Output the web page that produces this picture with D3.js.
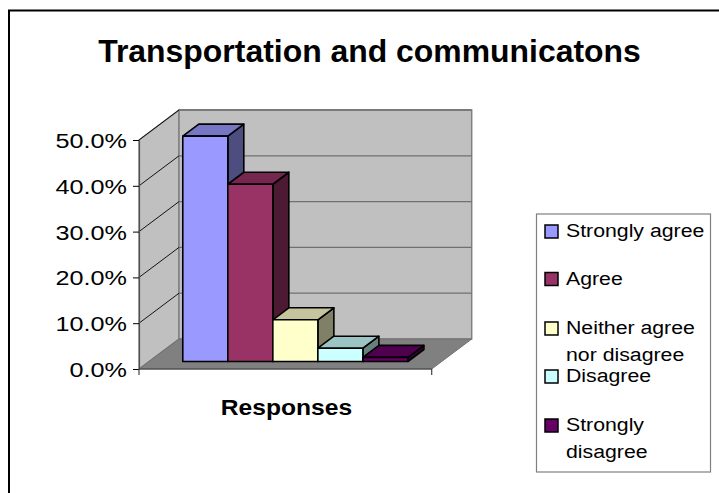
<!DOCTYPE html>
<html><head><meta charset="utf-8">
<script src="https://cdn.jsdelivr.net/npm/d3@7"></script>
<style>
html,body{margin:0;padding:0;background:#fff;}
svg{display:block;}
text{font-family:"Liberation Sans",Arial,sans-serif;fill:#000;}
</style></head>
<body>
<svg id="chart" width="719" height="493"></svg>
<script>
// ---- data ----
const title = "Transportation and communicatons";
const categories = ["Responses"];
const seriesNames = ["Strongly agree","Agree","Neither agree nor disagree","Disagree","Strongly disagree"];
const legendLines = [["Strongly agree"],["Agree"],["Neither agree","nor disagree"],["Disagree"],["Strongly","disagree"]];
const values = [0.492, 0.387, 0.091, 0.029, 0.009];
const seriesColors = ["#9999FF","#993366","#FFFFCC","#CCFFFF","#660066"];
const yTicks = [0,0.1,0.2,0.3,0.4,0.5];

// ---- layout ----
const svg = d3.select("#chart");
const plotLeft = 139, plotRight = 431.7, plotBottom = 369, plotTop = 140;
const depthX = 40, depthY = -30;
const barD0 = 0.25, barD1 = 0.65;

const y = d3.scaleLinear().domain([0,0.5]).range([plotBottom, plotTop]);
const x = d3.scaleBand().domain(seriesNames).range([plotLeft, plotRight]).paddingInner(0).paddingOuter(0.75);
const proj = (px, py, d) => [px + depthX*d, py + depthY*d];
const poly = pts => pts.map(p => p.join(",")).join(" ");

// outer chart frame
svg.append("rect").attr("x",9).attr("y",10.5).attr("width",800).attr("height",600)
  .attr("fill","none").attr("stroke","#000").attr("stroke-width",2);

// title
svg.append("text").attr("transform","translate(369.5,61.7) scale(1.03,1)")
  .attr("text-anchor","middle").attr("font-size",31).attr("font-weight","bold").text(title);

// walls
const y0 = y(0), yMax = y(0.5);
svg.append("polygon").attr("points", poly([proj(plotLeft,y0,0),proj(plotLeft,yMax,0),proj(plotLeft,yMax,1),proj(plotLeft,y0,1)]))
  .attr("fill","#C0C0C0").attr("stroke","#808080").attr("stroke-width",1.5);
svg.append("polygon").attr("points", poly([proj(plotLeft,y0,1),proj(plotLeft,yMax,1),proj(plotRight,yMax,1),proj(plotRight,y0,1)]))
  .attr("fill","#C0C0C0").attr("stroke","#808080").attr("stroke-width",1.5);
svg.append("polygon").attr("points", poly([proj(plotLeft,y0,0),proj(plotRight,y0,0),proj(plotRight,y0,1),proj(plotLeft,y0,1)]))
  .attr("fill","#808080").attr("stroke","#707070").attr("stroke-width",1);

// gridlines
const grid = svg.append("g");
yTicks.filter(t => t>0).forEach(t => {
  const a = proj(plotLeft, y(t), 1), b = proj(plotRight, y(t), 1);
  grid.append("line").attr("x1",a[0]).attr("y1",a[1]).attr("x2",b[0]).attr("y2",b[1])
    .attr("stroke","#707070").attr("stroke-width",1.3);
  const c = proj(plotLeft, y(t), 0);
  grid.append("line").attr("x1",c[0]).attr("y1",c[1]).attr("x2",a[0]).attr("y2",a[1])
    .attr("stroke","#000").attr("stroke-width",0.9);
});

// y axis
const sxY = 1.2;
const yAxis = svg.append("g").attr("transform",`translate(${plotLeft},0)`)
  .call(d3.axisLeft(y).tickValues(yTicks).tickFormat(d3.format(".1%")).tickSize(6).tickSizeOuter(0));
yAxis.select(".domain").attr("stroke","#505050").attr("stroke-width",1.2);
yAxis.selectAll(".tick line").attr("stroke","#000");
yAxis.selectAll(".tick text").attr("font-size",21).attr("font-family",'"Liberation Sans",Arial,sans-serif')
  .attr("fill","#000").attr("dy",null).attr("y",7.5).attr("x",-12/sxY).attr("transform",`scale(${sxY},1)`);

// x axis front edge and ticks
[plotLeft, plotRight].forEach(px => {
  svg.append("line").attr("x1",px).attr("x2",px).attr("y1",y0).attr("y2",y0+6).attr("stroke","#404040").attr("stroke-width",1.2);
});
svg.append("line").attr("x1",plotLeft).attr("x2",plotRight).attr("y1",y0).attr("y2",y0).attr("stroke","#404040").attr("stroke-width",1.2);

// bars
const shade = (c,k) => { const r = d3.rgb(c); return d3.rgb(r.r*k, r.g*k, r.b*k).toString(); };
const bars = svg.append("g");
seriesNames.forEach((name,i) => {
  const x0 = x(name), x1 = x0 + x.bandwidth();
  const yt = y(values[i]), yb = y(0);
  const col = seriesColors[i];
  const g = bars.append("g").attr("stroke","#000").attr("stroke-width",1.6).attr("stroke-linejoin","round");
  g.append("polygon").attr("points", poly([proj(x1,yt,barD0),proj(x1,yb,barD0),proj(x1,yb,barD1),proj(x1,yt,barD1)]))
    .attr("fill", shade(col,0.5));
  g.append("polygon").attr("points", poly([proj(x0,yt,barD0),proj(x1,yt,barD0),proj(x1,yt,barD1),proj(x0,yt,barD1)]))
    .attr("fill", shade(col,0.77));
  const f0 = proj(x0,yt,barD0), f1 = proj(x1,yb,barD0);
  g.append("rect").attr("x",f0[0]).attr("y",f0[1]).attr("width",f1[0]-f0[0]).attr("height",f1[1]-f0[1])
    .attr("fill", col);
});

// x axis category label
svg.append("text").attr("transform","translate(286.5,415) scale(1.12,1)")
  .attr("text-anchor","middle").attr("font-size",22).attr("font-weight","bold").text(categories[0]);

// legend
svg.append("rect").attr("x",536.5).attr("y",214).attr("width",174).attr("height",258)
  .attr("fill","#fff").attr("stroke","#808080").attr("stroke-width",1.2);
const legendCenters = [231.5, 279, 328.5, 376.5, 425.5];
const lg = svg.append("g");
seriesNames.forEach((name,i) => {
  const cy = legendCenters[i];
  lg.append("rect").attr("x",545).attr("y",cy-6.5).attr("width",13).attr("height",13)
    .attr("fill",seriesColors[i]).attr("stroke","#000").attr("stroke-width",1.5);
  legendLines[i].forEach((ln,j) => {
    lg.append("text").attr("transform",`translate(566,${cy+5.8+j*26.5}) scale(1.12,1)`)
      .attr("font-size",19).text(ln);
  });
});
</script>
</body></html>
